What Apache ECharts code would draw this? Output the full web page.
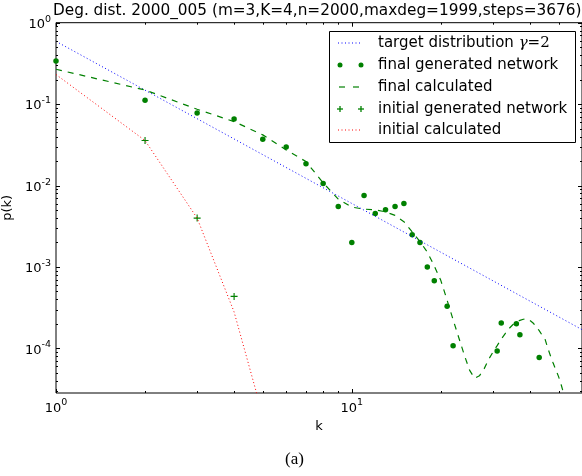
<!DOCTYPE html>
<html><head><meta charset="utf-8">
<script src="https://cdn.jsdelivr.net/npm/echarts@6/dist/echarts.min.js"></script>
<style>html,body{margin:0;padding:0;background:#fff}#c{width:582px;height:476px}</style>
</head><body><div id="c"></div>
<script>
const titleText = 'Deg. dist. 2000_005 (m=3,K=4,n=2000,maxdeg=1999,steps=3676)';
const xName = 'k';
const yName = 'p(k)';
const caption = '(a)';
const xMin = 1, xMax = 60, yMin = 2.83e-5, yMax = 1;

const targetK = [1, 60];
const targetP = [0.59, 1.7e-4];

const finalGenK = [1, 2, 3, 4, 5, 6, 7, 8, 9, 10, 11, 12, 13, 14, 15, 16, 17, 18, 19, 21, 22, 31, 32, 36, 37, 43];
const finalGenP = [0.339, 0.1116, 0.078, 0.0658, 0.0371, 0.0298, 0.0185, 0.0106, 0.00552, 0.0020, 0.00754, 0.00453, 0.00503, 0.00552, 0.0060, 0.00248, 0.0020, 0.000998, 0.000678, 0.000328, 0.000108, 9.3e-5, 2.05e-4, 2.0e-4, 1.47e-4, 7.7e-5];

const finalCalcK = [1, 2, 3, 4, 5, 6, 7, 8, 9, 10, 11, 12, 13, 14, 15, 16, 17, 18, 19, 20, 21, 22, 23, 24, 25, 26, 27, 28, 29, 30, 31, 32, 33, 34, 35, 36, 37, 38, 39, 40, 41, 42, 43, 44, 45, 46, 47, 48, 49, 50, 51, 52, 53];
const finalCalcP = [0.268, 0.149, 0.0865, 0.061, 0.0419, 0.0274, 0.0197, 0.0108, 0.0068, 0.00543, 0.00513, 0.00503, 0.00475, 0.0043, 0.0036, 0.0027, 0.00205, 0.00152, 0.00103, 0.00068, 3.9e-4, 2.25e-4, 1.35e-4, 8.3e-5, 5.4e-5, 4.3e-5, 4.6e-5, 5.6e-5, 7.3e-5, 9.0e-5, 1.08e-4, 1.3e-4, 1.52e-4, 1.75e-4, 1.95e-4, 2.1e-4, 2.21e-4, 2.28e-4, 2.3e-4, 2.2e-4, 2.05e-4, 1.86e-4, 1.65e-4, 1.45e-4, 1.3e-4, 1.0e-4, 8.0e-5, 6.5e-5, 5.4e-5, 4.5e-5, 3.6e-5, 2.8e-5, 2.2e-5];

const initGenK = [2, 3, 4];
const initGenP = [0.0357, 0.00398, 0.000435];

const initCalcK = [1, 2, 3, 4, 5];
const initCalcP = [0.231, 0.0357, 0.00398, 0.00028, 1.5e-5];

const xMajorTicks = [1, 10];
const xMinorTicks = [2, 3, 4, 5, 6, 7, 8, 9, 20, 30, 40, 50];
const yMajorTicks = [1e-4, 1e-3, 1e-2, 1e-1, 1];
const yMinorTicks = [3e-5, 4e-5, 5e-5, 6e-5, 7e-5, 8e-5, 9e-5,
  2e-4, 3e-4, 4e-4, 5e-4, 6e-4, 7e-4, 8e-4, 9e-4,
  2e-3, 3e-3, 4e-3, 5e-3, 6e-3, 7e-3, 8e-3, 9e-3,
  2e-2, 3e-2, 4e-2, 5e-2, 6e-2, 7e-2, 8e-2, 9e-2,
  0.2, 0.3, 0.4, 0.5, 0.6, 0.7, 0.8, 0.9];

const legendLabels = ['target distribution ', 'final generated network', 'final calculated', 'initial generated network', 'initial calculated'];

const FONT = 'DejaVu Sans';
const GREEN = '#008000', BLUE = '#0000ff', RED = '#ff0000';

const pairs = (ks, ps) => ks.map((k, i) => [k, ps[i]]);

const tickData = [];
xMajorTicks.forEach(v => tickData.push([v, yMin, 0]));
xMinorTicks.forEach(v => tickData.push([v, yMin, 1]));
yMajorTicks.forEach(v => tickData.push([xMin, v, 2]));
yMinorTicks.forEach(v => tickData.push([xMin, v, 3]));

function powLabel(v) {
  const e = Math.log10(v);
  const r = Math.round(e);
  if (Math.abs(e - r) > 1e-6) return '';
  return '{b|10}{s|' + r + '}';
}
const labelRich = {
  b: { fontSize: 13, fontFamily: FONT, color: '#000', lineHeight: 17, verticalAlign: 'bottom' },
  s: { fontSize: 9.5, fontFamily: FONT, color: '#000', lineHeight: 9, verticalAlign: 'top' }
};

const PLUS = 'path://M3.35,0H4.65V3.35H8V4.65H4.65V8H3.35V4.65H0V3.35H3.35Z';

const chart = echarts.init(document.getElementById('c'), null, { renderer: 'canvas' });

// legend graphic
const LX = 329, LY = 31, LW = 246, LH = 111;
const rowY = [43, 65, 87, 109, 130];
const legendChildren = [
  { type: 'rect', shape: { x: LX + 0.5, y: LY + 0.5, width: LW, height: LH }, style: { fill: '#fff', stroke: '#000', lineWidth: 1 } },
  { type: 'line', shape: { x1: 338, y1: rowY[0], x2: 362, y2: rowY[0] }, style: { stroke: BLUE, lineWidth: 1, lineDash: [1, 2.5] } },
  { type: 'circle', shape: { cx: 340, cy: rowY[1], r: 2.5 }, style: { fill: GREEN } },
  { type: 'circle', shape: { cx: 361, cy: rowY[1], r: 2.5 }, style: { fill: GREEN } },
  { type: 'line', shape: { x1: 339, y1: rowY[2], x2: 345, y2: rowY[2] }, style: { stroke: GREEN, lineWidth: 1.2 } },
  { type: 'line', shape: { x1: 353, y1: rowY[2], x2: 359, y2: rowY[2] }, style: { stroke: GREEN, lineWidth: 1.2 } },
  { type: 'line', shape: { x1: 337, y1: rowY[3], x2: 343, y2: rowY[3] }, style: { stroke: GREEN, lineWidth: 1.3 } },
  { type: 'line', shape: { x1: 340, y1: rowY[3] - 3, x2: 340, y2: rowY[3] + 3 }, style: { stroke: GREEN, lineWidth: 1.3 } },
  { type: 'line', shape: { x1: 358, y1: rowY[3], x2: 364, y2: rowY[3] }, style: { stroke: GREEN, lineWidth: 1.3 } },
  { type: 'line', shape: { x1: 361, y1: rowY[3] - 3, x2: 361, y2: rowY[3] + 3 }, style: { stroke: GREEN, lineWidth: 1.3 } },
  { type: 'line', shape: { x1: 338, y1: rowY[4], x2: 362, y2: rowY[4] }, style: { stroke: RED, lineWidth: 1, lineDash: [1, 2.5] } },
  { type: 'text', x: 378, y: rowY[0], style: { text: legendLabels[0] + '{g|γ}{e|=2}', rich: { g: { fontFamily: 'DejaVu Serif', fontStyle: 'italic', fontSize: 15 }, e: { fontFamily: 'DejaVu Serif', fontSize: 15 } }, font: '15px ' + FONT, fill: '#000', verticalAlign: 'middle' } }
];
for (let i = 1; i < 5; i++) {
  legendChildren.push({ type: 'text', x: 378, y: rowY[i], style: { text: legendLabels[i], font: '15px ' + FONT, fill: '#000', verticalAlign: 'middle' } });
}

chart.setOption({
  animation: false,
  backgroundColor: '#fff',
  title: {
    text: titleText, left: 53, top: 4, padding: 0,
    textStyle: { fontFamily: FONT, fontSize: 15.3, fontWeight: 'normal', color: '#000', overflow: 'none' }
  },
  grid: { left: 56, right: 0, top: 22.7, bottom: 83, show: true, borderColor: '#000', borderWidth: 1, backgroundColor: 'transparent', containLabel: false, outerBoundsMode: 'none' },
  xAxis: {
    type: 'log', logBase: 10, min: xMin, max: xMax,
    name: xName, nameLocation: 'middle', nameGap: 25,
    nameTextStyle: { fontFamily: FONT, fontSize: 13, color: '#000' },
    axisLine: { show: false }, axisTick: { show: false }, splitLine: { show: false },
    axisLabel: { formatter: powLabel, rich: labelRich, margin: 5, showMinLabel: true, showMaxLabel: true }
  },
  yAxis: {
    type: 'log', logBase: 10, min: yMin, max: yMax,
    name: yName, nameLocation: 'middle', nameGap: 37,
    nameTextStyle: { fontFamily: FONT, fontSize: 13, color: '#000' },
    axisLine: { show: false }, axisTick: { show: false }, splitLine: { show: false },
    axisLabel: { formatter: powLabel, rich: labelRich, margin: 5, showMinLabel: true, showMaxLabel: true }
  },
  graphic: [
    { type: 'group', children: legendChildren, z: 100 },
    { type: 'text', x: 294.5, y: 460, style: { text: caption, font: '17px "Liberation Serif"', fill: '#000', align: 'center', verticalAlign: 'middle' } }
  ],
  series: [
    {
      name: 'ticks', type: 'custom', silent: true, z: 10,
      data: tickData,
      renderItem: function (params, api) {
        const t = api.value(2);
        const cs = params.coordSys;
        const p = api.coord([api.value(0), api.value(1)]);
        const len = (t === 0 || t === 2) ? 4 : 2;
        const st = { stroke: '#000', lineWidth: 1 };
        let ch;
        if (t < 2) {
          const x = Math.round(p[0]) + 0.5;
          const yb = cs.y + cs.height, yt = cs.y;
          ch = [
            { type: 'line', shape: { x1: x, y1: yb, x2: x, y2: yb - len }, style: st },
            { type: 'line', shape: { x1: x, y1: yt, x2: x, y2: yt + len }, style: st }
          ];
        } else {
          const y = Math.round(p[1]) + 0.5;
          const xl = cs.x, xr = cs.x + cs.width;
          ch = [
            { type: 'line', shape: { x1: xl, y1: y, x2: xl + len, y2: y }, style: st },
            { type: 'line', shape: { x1: xr, y1: y, x2: xr - len, y2: y }, style: st }
          ];
        }
        return { type: 'group', children: ch };
      }
    },
    {
      name: 'target distribution', type: 'line', data: pairs(targetK, targetP),
      showSymbol: false, symbol: 'none', clip: true,
      lineStyle: { color: BLUE, width: 1, type: [1, 2.5] }
    },
    {
      name: 'final generated network', type: 'scatter', data: pairs(finalGenK, finalGenP),
      symbol: 'circle', symbolSize: 5.5, itemStyle: { color: GREEN, opacity: 1 }
    },
    {
      name: 'final calculated', type: 'line', data: pairs(finalCalcK, finalCalcP),
      showSymbol: false, symbol: 'none', clip: true,
      lineStyle: { color: GREEN, width: 1.2, type: [6, 6] }
    },
    {
      name: 'initial generated network', type: 'scatter', data: pairs(initGenK, initGenP),
      symbol: PLUS, symbolSize: 7, itemStyle: { color: GREEN, opacity: 1 }
    },
    {
      name: 'initial calculated', type: 'line', data: pairs(initCalcK, initCalcP),
      showSymbol: false, symbol: 'none', clip: true,
      lineStyle: { color: RED, width: 1, type: [1, 2.5] }
    }
  ]
});
</script></body></html>
